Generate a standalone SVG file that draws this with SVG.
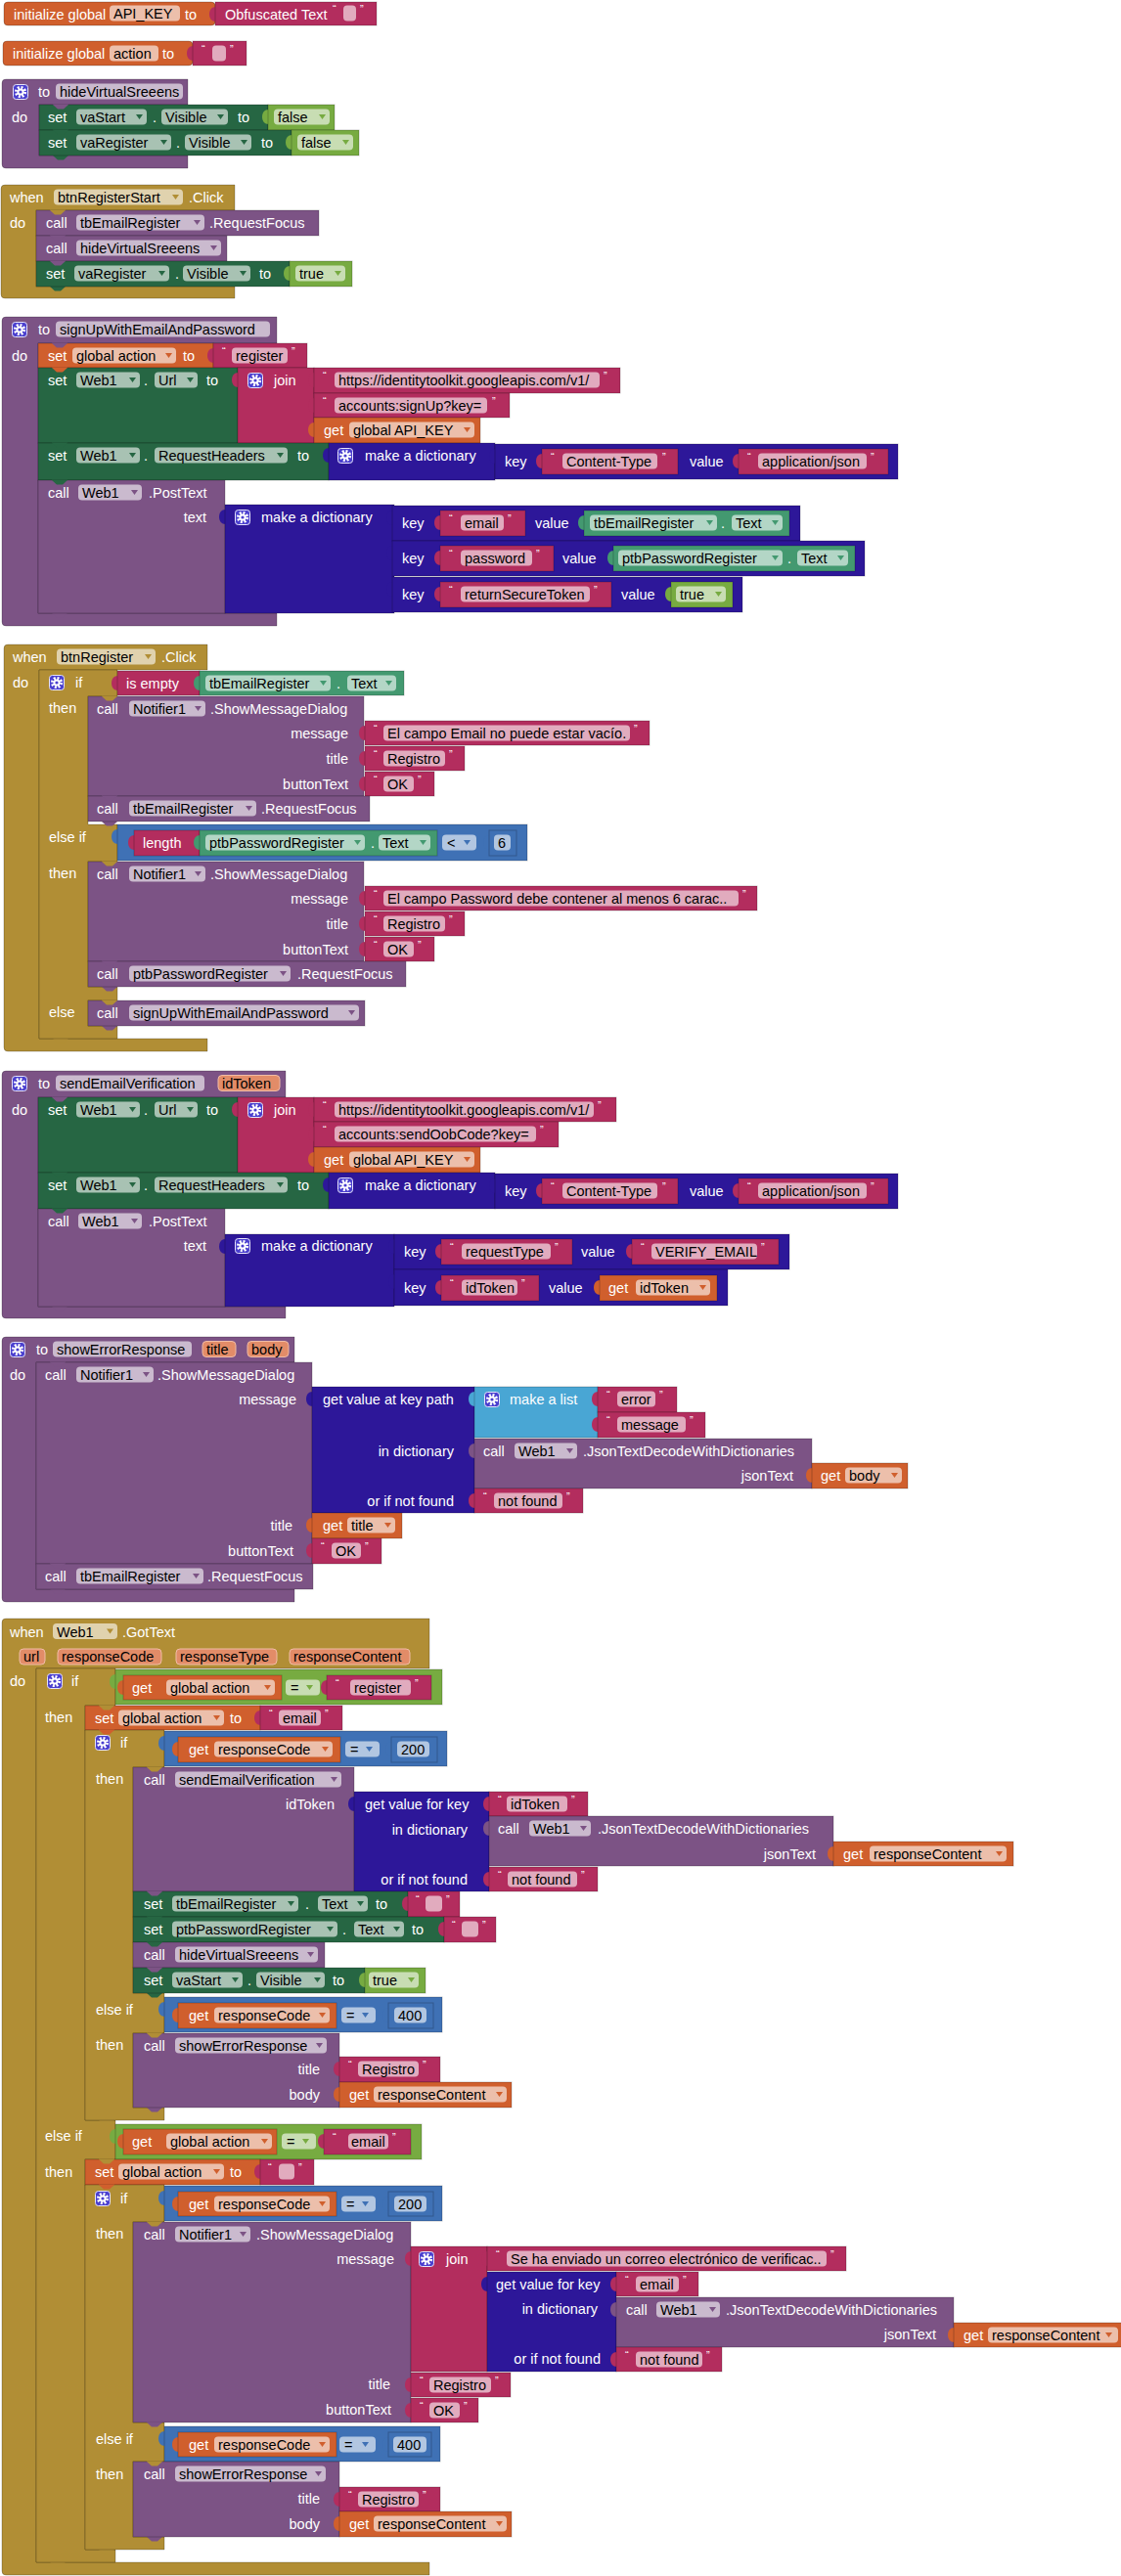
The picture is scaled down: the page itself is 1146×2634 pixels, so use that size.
<svg xmlns="http://www.w3.org/2000/svg" width="1146" height="2634" viewBox="0 0 1146 2634">
<style>
text{font-family:"Liberation Sans",Arial,sans-serif;font-size:14.5px;fill:#fff}
text.k{fill:#000}
text.q{font-size:11px}
text.r{text-anchor:end}
.b{stroke:#000;stroke-opacity:.22;stroke-width:1}
.p{fill:#fff;fill-opacity:.6}
.pa{fill:#E28C68;stroke:#F0BCA6}
.V{fill:#D05F2D}.T{fill:#B32D5E}.P{fill:#7C5385}.C{fill:#B18E35}.S{fill:#266643}.G{fill:#439970}.L{fill:#77AB41}.M{fill:#3F71B5}.D{fill:#2D1799}.LI{fill:#49A6D4}
</style>
<defs>
<path id="tb" d="M0.5,5C-3.5,5 -6,8 -6,12.5S-3.5,20 0.5,20Z"/>
<path id="ar" d="M0,0H7L3.5,5Z"/>
<path id="nt" d="M0,-0.5V0L5,4.5H11L16,0V-0.5Z"/>
<g id="gr"><rect x=".5" y=".5" width="15" height="15" rx="3" fill="#4A3FCF" stroke="#E6E4FA"/><circle cx="8" cy="8" r="4.6" fill="none" stroke="#fff" stroke-width="3" stroke-dasharray="1.9 1.7"/><circle cx="8" cy="8" r="3.6" fill="#fff"/><circle cx="8" cy="8" r="1.6" fill="#4A3FCF"/></g>
</defs>
<rect width="1146" height="2634" fill="#fff"/>

<g id="init-api-key">
<rect class="V b" x="4" y="2" width="216" height="24" rx="4"/>
<text x="14" y="19.5">initialize global</text>
<rect class="p" x="112" y="5.5" width="72" height="16" rx="4"/><text class="k" x="116" y="19">API_KEY</text>
<text x="189" y="19.5">to</text>
<use href="#tb" class="T" x="220" y="2"/><rect class="T b" x="220" y="2" width="165" height="24"/>
<text x="230" y="19.5">Obfuscated Text</text>
<text class="q" x="340" y="13">“</text><rect class="p" x="351" y="5.5" width="13" height="16" rx="4"/><text class="q" x="368" y="13">”</text>
</g>

<g id="init-action">
<rect class="V b" x="3" y="42" width="194" height="25" rx="4"/>
<text x="13" y="60">initialize global</text>
<rect class="p" x="112" y="46.5" width="50" height="16" rx="4"/><text class="k" x="116" y="60">action</text>
<text x="166" y="60">to</text>
<use href="#tb" class="T" x="197" y="42"/><rect class="T b" x="197" y="42" width="55" height="25"/>
<text class="q" x="206" y="54">“</text><rect class="p" x="217" y="46.5" width="14" height="16" rx="4"/><text class="q" x="235" y="54">”</text>
</g>

<g id="proc-hideVirtualSreeens">
<path class="P b" d="M2,85Q2,81 6,81H192V107H40V159H192V172H6Q2,172 2,168Z"/>
<use href="#gr" x="13" y="86"/>
<text x="39" y="99">to</text>
<rect class="p" x="57" y="85.5" width="130" height="16" rx="4"/><text class="k" x="61" y="99">hideVirtualSreeens</text>
<text x="12" y="125">do</text>
<rect class="S b" x="40" y="107" width="234" height="26"/>
<text x="49" y="125">set</text>
<rect class="p" x="78" y="111.5" width="72" height="16" rx="4"/><text class="k" x="82" y="125">vaStart</text><use href="#ar" class="S" x="139" y="117"/>
<text x="156" y="125">.</text>
<rect class="p" x="165" y="111.5" width="68" height="16" rx="4"/><text class="k" x="169" y="125">Visible</text><use href="#ar" class="S" x="222" y="117"/>
<text x="243" y="125">to</text>
<use href="#tb" class="L" x="274" y="107"/><rect class="L b" x="274" y="107" width="68" height="26"/>
<rect class="p" x="280" y="111.5" width="57" height="16" rx="4"/><text class="k" x="284" y="125">false</text><use href="#ar" class="L" x="326" y="117"/>
<use href="#nt" class="S" x="54" y="159"/>
<rect class="S b" x="40" y="133" width="258" height="26"/>
<text x="49" y="151">set</text>
<rect class="p" x="78" y="137.5" width="97" height="16" rx="4"/><text class="k" x="82" y="151">vaRegister</text><use href="#ar" class="S" x="164" y="143"/>
<text x="180" y="151">.</text>
<rect class="p" x="189" y="137.5" width="68" height="16" rx="4"/><text class="k" x="193" y="151">Visible</text><use href="#ar" class="S" x="246" y="143"/>
<text x="267" y="151">to</text>
<use href="#tb" class="L" x="298" y="133"/><rect class="L b" x="298" y="133" width="69" height="26"/>
<rect class="p" x="304" y="137.5" width="57" height="16" rx="4"/><text class="k" x="308" y="151">false</text><use href="#ar" class="L" x="350" y="143"/>
<use href="#nt" class="P" x="54" y="107"/><use href="#nt" class="S" x="54" y="133"/>
</g>

<g id="when-btnRegisterStart-click">
<path class="C b" d="M1,193Q1,189 5,189H240V215H37V293H240V305H5Q1,305 1,301Z"/>
<text x="10" y="207">when</text>
<rect class="p" x="55" y="193.5" width="132" height="16" rx="4"/><text class="k" x="59" y="207">btnRegisterStart</text><use href="#ar" class="C" x="176" y="199"/>
<text x="193" y="207">.Click</text>
<text x="10" y="233">do</text>
<rect class="P b" x="37" y="215" width="289" height="26"/>
<text x="47" y="233">call</text>
<rect class="p" x="78" y="219.5" width="131" height="16" rx="4"/><text class="k" x="82" y="233">tbEmailRegister</text><use href="#ar" class="P" x="198" y="225"/>
<text x="214" y="233">.RequestFocus</text>
<rect class="P b" x="37" y="241" width="195" height="26"/>
<text x="47" y="259">call</text>
<rect class="p" x="78" y="245.5" width="148" height="16" rx="4"/><text class="k" x="82" y="259">hideVirtualSreeens</text><use href="#ar" class="P" x="215" y="251"/>
<use href="#nt" class="S" x="51" y="293"/>
<rect class="S b" x="37" y="267" width="259" height="26"/>
<text x="47" y="285">set</text>
<rect class="p" x="76" y="271.5" width="97" height="16" rx="4"/><text class="k" x="80" y="285">vaRegister</text><use href="#ar" class="S" x="162" y="277"/>
<text x="179" y="285">.</text>
<rect class="p" x="187" y="271.5" width="69" height="16" rx="4"/><text class="k" x="191" y="285">Visible</text><use href="#ar" class="S" x="245" y="277"/>
<text x="265" y="285">to</text>
<use href="#tb" class="L" x="296" y="267"/><rect class="L b" x="296" y="267" width="64" height="26"/>
<rect class="p" x="302" y="271.5" width="51" height="16" rx="4"/><text class="k" x="306" y="285">true</text><use href="#ar" class="L" x="342" y="277"/>
<use href="#nt" class="C" x="51" y="215"/><use href="#nt" class="P" x="51" y="241"/><use href="#nt" class="P" x="51" y="267"/>
</g>

<g id="proc-signUpWithEmailAndPassword">
<path class="P b" d="M2,328Q2,324 6,324H283V351H39V627H283V640H6Q2,640 2,636Z"/>
<use href="#gr" x="12" y="329"/>
<text x="39" y="342">to</text>
<rect class="p" x="57" y="328.5" width="219" height="16" rx="4"/><text class="k" x="61" y="342">signUpWithEmailAndPassword</text>
<text x="12" y="369">do</text>
<rect class="V b" x="39" y="351" width="179" height="25"/>
<text x="49" y="369">set</text>
<rect class="p" x="74" y="355.5" width="106" height="16" rx="4"/><text class="k" x="78" y="369">global action</text><use href="#ar" class="V" x="169" y="361"/>
<text x="187" y="369">to</text>
<use href="#tb" class="T" x="218" y="351"/><rect class="T b" x="218" y="351" width="96" height="25"/>
<text class="q" x="227" y="363">“</text><rect class="p" x="237" y="355.5" width="57" height="16" rx="4"/><text class="k" x="241" y="369">register</text><text class="q" x="298" y="363">”</text>
<rect class="S b" x="39" y="376" width="204" height="77"/>
<text x="49" y="394">set</text>
<rect class="p" x="78" y="380.5" width="65" height="16" rx="4"/><text class="k" x="82" y="394">Web1</text><use href="#ar" class="S" x="132" y="386"/>
<text x="147" y="394">.</text>
<rect class="p" x="158" y="380.5" width="44" height="16" rx="4"/><text class="k" x="162" y="394">Url</text><use href="#ar" class="S" x="191" y="386"/>
<text x="211" y="394">to</text>
<use href="#tb" class="T" x="243" y="376"/><rect class="T b" x="243" y="376" width="78" height="77"/>
<use href="#gr" x="253" y="381"/><text x="280" y="394">join</text>
<use href="#tb" class="T" x="321" y="376"/><rect class="T b" x="321" y="376" width="313" height="26"/>
<text class="q" x="330" y="388">“</text><rect class="p" x="342" y="380.5" width="271" height="16" rx="4"/><text class="k" x="346" y="394">https://identitytoolkit.googleapis.com/v1/</text><text class="q" x="617" y="388">”</text>
<use href="#tb" class="T" x="321" y="402"/><rect class="T b" x="321" y="402" width="200" height="25"/>
<text class="q" x="330" y="414">“</text><rect class="p" x="342" y="406.5" width="156" height="16" rx="4"/><text class="k" x="346" y="420">accounts:signUp?key=</text><text class="q" x="503" y="414">”</text>
<use href="#tb" class="V" x="321" y="427"/><rect class="V b" x="321" y="427" width="170" height="26"/>
<text x="331" y="445">get</text>
<rect class="p" x="357" y="431.5" width="128" height="16" rx="4"/><text class="k" x="361" y="445">global API_KEY</text><use href="#ar" class="V" x="474" y="437"/>
<rect class="S b" x="39" y="453" width="297" height="38"/>
<text x="49" y="471">set</text>
<rect class="p" x="78" y="457.5" width="65" height="16" rx="4"/><text class="k" x="82" y="471">Web1</text><use href="#ar" class="S" x="132" y="463"/>
<text x="147" y="471">.</text>
<rect class="p" x="158" y="457.5" width="136" height="16" rx="4"/><text class="k" x="162" y="471">RequestHeaders</text><use href="#ar" class="S" x="283" y="463"/>
<text x="304" y="471">to</text>
<use href="#tb" class="D" x="336" y="453"/><rect class="D b" x="336" y="453" width="170" height="38"/>
<use href="#gr" x="345" y="458"/><text x="373" y="471">make a dictionary</text>
<use href="#tb" class="D" x="506" y="454"/><rect class="D b" x="506" y="454" width="412" height="36"/>
<text x="516" y="477">key</text>
<use href="#tb" class="T" x="554" y="459"/><rect class="T b" x="554" y="459" width="139" height="26"/>
<text class="q" x="563" y="471">“</text><rect class="p" x="575" y="463.5" width="97" height="16" rx="4"/><text class="k" x="579" y="477">Content-Type</text><text class="q" x="677" y="471">”</text>
<text x="705" y="477">value</text>
<use href="#tb" class="T" x="755" y="459"/><rect class="T b" x="755" y="459" width="153" height="26"/>
<text class="q" x="764" y="471">“</text><rect class="p" x="775" y="463.5" width="111" height="16" rx="4"/><text class="k" x="779" y="477">application/json</text><text class="q" x="890" y="471">”</text>
<use href="#nt" class="P" x="53" y="627"/>
<rect class="P b" x="39" y="491" width="191" height="136"/>
<text x="49" y="509">call</text>
<rect class="p" x="80" y="495.5" width="65" height="16" rx="4"/><text class="k" x="84" y="509">Web1</text><use href="#ar" class="P" x="134" y="501"/>
<text x="152" y="509">.PostText</text>
<text class="r" x="211" y="534">text</text>
<use href="#tb" class="D" x="230" y="516"/><rect class="D b" x="230" y="516" width="173" height="111"/>
<use href="#gr" x="240" y="521"/><text x="267" y="534">make a dictionary</text>
<use href="#tb" class="D" x="401" y="517"/><rect class="D b" x="401" y="517" width="417" height="36"/>
<text x="411" y="540">key</text>
<use href="#tb" class="T" x="450" y="522"/><rect class="T b" x="450" y="522" width="87" height="26"/>
<text class="q" x="459" y="534">“</text><rect class="p" x="471" y="526.5" width="44" height="16" rx="4"/><text class="k" x="475" y="540">email</text><text class="q" x="519" y="534">”</text>
<text x="547" y="540">value</text>
<use href="#tb" class="G" x="597" y="522"/><rect class="G b" x="597" y="522" width="210" height="26"/>
<rect class="p" x="603" y="526.5" width="130" height="16" rx="4"/><text class="k" x="607" y="540">tbEmailRegister</text><use href="#ar" class="G" x="722" y="532"/>
<text x="737" y="540">.</text>
<rect class="p" x="748" y="526.5" width="52" height="16" rx="4"/><text class="k" x="752" y="540">Text</text><use href="#ar" class="G" x="789" y="532"/>
<use href="#tb" class="D" x="401" y="553"/><rect class="D b" x="401" y="553" width="483" height="36"/>
<text x="411" y="576">key</text>
<use href="#tb" class="T" x="450" y="558"/><rect class="T b" x="450" y="558" width="116" height="26"/>
<text class="q" x="459" y="570">“</text><rect class="p" x="471" y="562.5" width="73" height="16" rx="4"/><text class="k" x="475" y="576">password</text><text class="q" x="548" y="570">”</text>
<text x="575" y="576">value</text>
<use href="#tb" class="G" x="627" y="558"/><rect class="G b" x="627" y="558" width="247" height="26"/>
<rect class="p" x="632" y="562.5" width="168" height="16" rx="4"/><text class="k" x="636" y="576">ptbPasswordRegister</text><use href="#ar" class="G" x="789" y="568"/>
<text x="805" y="576">.</text>
<rect class="p" x="815" y="562.5" width="52" height="16" rx="4"/><text class="k" x="819" y="576">Text</text><use href="#ar" class="G" x="856" y="568"/>
<use href="#tb" class="D" x="401" y="590"/><rect class="D b" x="401" y="590" width="358" height="36"/>
<text x="411" y="613">key</text>
<use href="#tb" class="T" x="450" y="595"/><rect class="T b" x="450" y="595" width="175" height="26"/>
<text class="q" x="459" y="607">“</text><rect class="p" x="471" y="599.5" width="132" height="16" rx="4"/><text class="k" x="475" y="613">returnSecureToken</text><text class="q" x="607" y="607">”</text>
<text x="635" y="613">value</text>
<use href="#tb" class="L" x="686" y="595"/><rect class="L b" x="686" y="595" width="63" height="26"/>
<rect class="p" x="691" y="599.5" width="51" height="16" rx="4"/><text class="k" x="695" y="613">true</text><use href="#ar" class="L" x="731" y="605"/>
<use href="#nt" class="P" x="53" y="351"/><use href="#nt" class="V" x="53" y="376"/><use href="#nt" class="S" x="53" y="453"/><use href="#nt" class="S" x="53" y="491"/>
</g>

<g id="when-btnRegister-click">
<path class="C b" d="M4,663Q4,659 8,659H212V685H40V1062H212V1075H8Q4,1075 4,1071Z"/>
<text x="13" y="677">when</text>
<rect class="p" x="58" y="663.5" width="101" height="16" rx="4"/><text class="k" x="62" y="677">btnRegister</text><use href="#ar" class="C" x="148" y="669"/>
<text x="165" y="677">.Click</text>
<text x="13" y="703">do</text>
<use href="#nt" class="C" x="54" y="1062"/>
<path class="C b" d="M40,685H120V712H90V843H120V881H90V1009H120V1023H90V1049H120V1062H40Z"/>
<use href="#gr" x="50" y="690"/><text x="77" y="703">if</text>
<text x="50" y="729">then</text>
<text x="50" y="861">else if</text>
<text x="50" y="898">then</text>
<text x="50" y="1040">else</text>
<use href="#tb" class="T" x="120" y="686"/><rect class="T b" x="120" y="686" width="84" height="25"/>
<text x="129" y="704">is empty</text>
<use href="#tb" class="G" x="204" y="686"/><rect class="G b" x="204" y="686" width="209" height="25"/>
<rect class="p" x="210" y="690.5" width="128" height="16" rx="4"/><text class="k" x="214" y="704">tbEmailRegister</text><use href="#ar" class="G" x="327" y="696"/>
<text x="344" y="704">.</text>
<rect class="p" x="355" y="690.5" width="50" height="16" rx="4"/><text class="k" x="359" y="704">Text</text><use href="#ar" class="G" x="394" y="696"/>
<rect class="P b" x="90" y="712" width="282" height="102"/>
<text x="99" y="730">call</text>
<rect class="p" x="132" y="716.5" width="78" height="16" rx="4"/><text class="k" x="136" y="730">Notifier1</text><use href="#ar" class="P" x="199" y="722"/>
<text x="215" y="730">.ShowMessageDialog</text>
<text class="r" x="356" y="755">message</text>
<text class="r" x="356" y="781">title</text>
<text class="r" x="356" y="807">buttonText</text>
<use href="#tb" class="T" x="373" y="737"/><rect class="T b" x="373" y="737" width="291" height="25"/>
<text class="q" x="382" y="749">“</text><rect class="p" x="392" y="741.5" width="252" height="16" rx="4"/><text class="k" x="396" y="755">El campo Email no puede estar vacío.</text><text class="q" x="648" y="749">”</text>
<use href="#tb" class="T" x="373" y="763"/><rect class="T b" x="373" y="763" width="102" height="25"/>
<text class="q" x="382" y="775">“</text><rect class="p" x="392" y="767.5" width="63" height="16" rx="4"/><text class="k" x="396" y="781">Registro</text><text class="q" x="459" y="775">”</text>
<use href="#tb" class="T" x="373" y="789"/><rect class="T b" x="373" y="789" width="71" height="25"/>
<text class="q" x="382" y="801">“</text><rect class="p" x="392" y="793.5" width="31" height="16" rx="4"/><text class="k" x="396" y="807">OK</text><text class="q" x="427" y="801">”</text>
<use href="#nt" class="P" x="104" y="840"/>
<rect class="P b" x="90" y="814" width="288" height="26"/>
<text x="99" y="832">call</text>
<rect class="p" x="132" y="818.5" width="130" height="16" rx="4"/><text class="k" x="136" y="832">tbEmailRegister</text><use href="#ar" class="P" x="251" y="824"/>
<text x="267" y="832">.RequestFocus</text>
<use href="#tb" class="M" x="120" y="843"/><rect class="M b" x="120" y="843" width="419" height="37"/>
<use href="#tb" class="T" x="137" y="849"/><rect class="T b" x="137" y="849" width="67" height="26"/>
<text x="146" y="867">length</text>
<use href="#tb" class="G" x="204" y="849"/><rect class="G b" x="204" y="849" width="243" height="26"/>
<rect class="p" x="210" y="853.5" width="163" height="16" rx="4"/><text class="k" x="214" y="867">ptbPasswordRegister</text><use href="#ar" class="G" x="362" y="859"/>
<text x="379" y="867">.</text>
<rect class="p" x="387" y="853.5" width="53" height="16" rx="4"/><text class="k" x="391" y="867">Text</text><use href="#ar" class="G" x="429" y="859"/>
<rect class="p" x="452" y="853.5" width="35" height="16" rx="4"/><text class="k" x="457" y="867">&lt;</text><use href="#ar" class="M" x="474" y="859"/>
<use href="#tb" class="M" x="500" y="849"/><rect class="M b" x="500" y="849" width="28" height="26"/>
<rect class="p" x="505" y="853.5" width="17" height="16" rx="4"/><text class="k" x="509" y="867">6</text>
<rect class="P b" x="90" y="881" width="282" height="102"/>
<text x="99" y="899">call</text>
<rect class="p" x="132" y="885.5" width="78" height="16" rx="4"/><text class="k" x="136" y="899">Notifier1</text><use href="#ar" class="P" x="199" y="891"/>
<text x="215" y="899">.ShowMessageDialog</text>
<text class="r" x="356" y="924">message</text>
<text class="r" x="356" y="950">title</text>
<text class="r" x="356" y="976">buttonText</text>
<use href="#tb" class="T" x="373" y="906"/><rect class="T b" x="373" y="906" width="401" height="25"/>
<text class="q" x="382" y="918">“</text><rect class="p" x="392" y="910.5" width="363" height="16" rx="4"/><text class="k" x="396" y="924">El campo Password debe contener al menos 6 carac..</text><text class="q" x="759" y="918">”</text>
<use href="#tb" class="T" x="373" y="932"/><rect class="T b" x="373" y="932" width="102" height="25"/>
<text class="q" x="382" y="944">“</text><rect class="p" x="392" y="936.5" width="63" height="16" rx="4"/><text class="k" x="396" y="950">Registro</text><text class="q" x="459" y="944">”</text>
<use href="#tb" class="T" x="373" y="958"/><rect class="T b" x="373" y="958" width="71" height="25"/>
<text class="q" x="382" y="970">“</text><rect class="p" x="392" y="962.5" width="31" height="16" rx="4"/><text class="k" x="396" y="976">OK</text><text class="q" x="427" y="970">”</text>
<use href="#nt" class="P" x="104" y="1009"/>
<rect class="P b" x="90" y="983" width="325" height="26"/>
<text x="99" y="1001">call</text>
<rect class="p" x="132" y="987.5" width="165" height="16" rx="4"/><text class="k" x="136" y="1001">ptbPasswordRegister</text><use href="#ar" class="P" x="286" y="993"/>
<text x="304" y="1001">.RequestFocus</text>
<use href="#nt" class="P" x="104" y="1049"/>
<rect class="P b" x="90" y="1023" width="283" height="26"/>
<text x="99" y="1041">call</text>
<rect class="p" x="132" y="1027.5" width="235" height="16" rx="4"/><text class="k" x="136" y="1041">signUpWithEmailAndPassword</text><use href="#ar" class="P" x="356" y="1033"/>
<use href="#nt" class="C" x="104" y="712"/><use href="#nt" class="P" x="104" y="814"/><use href="#nt" class="C" x="104" y="881"/><use href="#nt" class="P" x="104" y="983"/><use href="#nt" class="C" x="104" y="1023"/>
</g>

<g id="proc-sendEmailVerification">
<path class="P b" d="M2,1099Q2,1095 6,1095H292V1122H39V1336H292V1348H6Q2,1348 2,1344Z"/>
<use href="#gr" x="12" y="1100"/>
<text x="39" y="1113">to</text>
<rect class="p" x="57" y="1099.5" width="152" height="16" rx="4"/><text class="k" x="61" y="1113">sendEmailVerification</text>
<rect class="pa" x="223" y="1099.5" width="63" height="16" rx="4"/><text class="k" x="227" y="1113">idToken</text>
<text x="12" y="1140">do</text>
<rect class="S b" x="39" y="1122" width="204" height="77"/>
<text x="49" y="1140">set</text>
<rect class="p" x="78" y="1126.5" width="65" height="16" rx="4"/><text class="k" x="82" y="1140">Web1</text><use href="#ar" class="S" x="132" y="1132"/>
<text x="147" y="1140">.</text>
<rect class="p" x="158" y="1126.5" width="44" height="16" rx="4"/><text class="k" x="162" y="1140">Url</text><use href="#ar" class="S" x="191" y="1132"/>
<text x="211" y="1140">to</text>
<use href="#tb" class="T" x="243" y="1122"/><rect class="T b" x="243" y="1122" width="78" height="77"/>
<use href="#gr" x="253" y="1127"/><text x="280" y="1140">join</text>
<use href="#tb" class="T" x="321" y="1122"/><rect class="T b" x="321" y="1122" width="309" height="25"/>
<text class="q" x="330" y="1134">“</text><rect class="p" x="342" y="1126.5" width="265" height="16" rx="4"/><text class="k" x="346" y="1140">https://identitytoolkit.googleapis.com/v1/</text><text class="q" x="611" y="1134">”</text>
<use href="#tb" class="T" x="321" y="1147"/><rect class="T b" x="321" y="1147" width="250" height="26"/>
<text class="q" x="330" y="1159">“</text><rect class="p" x="342" y="1151.5" width="206" height="16" rx="4"/><text class="k" x="346" y="1165">accounts:sendOobCode?key=</text><text class="q" x="552" y="1159">”</text>
<use href="#tb" class="V" x="321" y="1173"/><rect class="V b" x="321" y="1173" width="170" height="26"/>
<text x="331" y="1191">get</text>
<rect class="p" x="357" y="1177.5" width="128" height="16" rx="4"/><text class="k" x="361" y="1191">global API_KEY</text><use href="#ar" class="V" x="474" y="1183"/>
<rect class="S b" x="39" y="1199" width="297" height="37"/>
<text x="49" y="1217">set</text>
<rect class="p" x="78" y="1203.5" width="65" height="16" rx="4"/><text class="k" x="82" y="1217">Web1</text><use href="#ar" class="S" x="132" y="1209"/>
<text x="147" y="1217">.</text>
<rect class="p" x="158" y="1203.5" width="136" height="16" rx="4"/><text class="k" x="162" y="1217">RequestHeaders</text><use href="#ar" class="S" x="283" y="1209"/>
<text x="304" y="1217">to</text>
<use href="#tb" class="D" x="336" y="1199"/><rect class="D b" x="336" y="1199" width="170" height="37"/>
<use href="#gr" x="345" y="1204"/><text x="373" y="1217">make a dictionary</text>
<use href="#tb" class="D" x="506" y="1200"/><rect class="D b" x="506" y="1200" width="412" height="36"/>
<text x="516" y="1223">key</text>
<use href="#tb" class="T" x="554" y="1205"/><rect class="T b" x="554" y="1205" width="139" height="26"/>
<text class="q" x="563" y="1217">“</text><rect class="p" x="575" y="1209.5" width="97" height="16" rx="4"/><text class="k" x="579" y="1223">Content-Type</text><text class="q" x="677" y="1217">”</text>
<text x="705" y="1223">value</text>
<use href="#tb" class="T" x="755" y="1205"/><rect class="T b" x="755" y="1205" width="153" height="26"/>
<text class="q" x="764" y="1217">“</text><rect class="p" x="775" y="1209.5" width="111" height="16" rx="4"/><text class="k" x="779" y="1223">application/json</text><text class="q" x="890" y="1217">”</text>
<use href="#nt" class="P" x="53" y="1336"/>
<rect class="P b" x="39" y="1236" width="191" height="100"/>
<text x="49" y="1254">call</text>
<rect class="p" x="80" y="1240.5" width="65" height="16" rx="4"/><text class="k" x="84" y="1254">Web1</text><use href="#ar" class="P" x="134" y="1246"/>
<text x="152" y="1254">.PostText</text>
<text class="r" x="211" y="1279">text</text>
<use href="#tb" class="D" x="230" y="1262"/><rect class="D b" x="230" y="1262" width="173" height="74"/>
<use href="#gr" x="240" y="1266"/><text x="267" y="1279">make a dictionary</text>
<use href="#tb" class="D" x="403" y="1262"/><rect class="D b" x="403" y="1262" width="404" height="36"/>
<text x="413" y="1285">key</text>
<use href="#tb" class="T" x="451" y="1267"/><rect class="T b" x="451" y="1267" width="134" height="26"/>
<text class="q" x="460" y="1279">“</text><rect class="p" x="472" y="1271.5" width="91" height="16" rx="4"/><text class="k" x="476" y="1285">requestType</text><text class="q" x="567" y="1279">”</text>
<text x="594" y="1285">value</text>
<use href="#tb" class="T" x="646" y="1267"/><rect class="T b" x="646" y="1267" width="150" height="26"/>
<text class="q" x="655" y="1279">“</text><rect class="p" x="666" y="1271.5" width="108" height="16" rx="4"/><text class="k" x="670" y="1285">VERIFY_EMAIL</text><text class="q" x="778" y="1279">”</text>
<use href="#tb" class="D" x="403" y="1298"/><rect class="D b" x="403" y="1298" width="341" height="37"/>
<text x="413" y="1322">key</text>
<use href="#tb" class="T" x="451" y="1304"/><rect class="T b" x="451" y="1304" width="100" height="26"/>
<text class="q" x="460" y="1316">“</text><rect class="p" x="472" y="1308.5" width="57" height="16" rx="4"/><text class="k" x="476" y="1322">idToken</text><text class="q" x="533" y="1316">”</text>
<text x="561" y="1322">value</text>
<use href="#tb" class="V" x="613" y="1304"/><rect class="V b" x="613" y="1304" width="120" height="26"/>
<text x="622" y="1322">get</text>
<rect class="p" x="650" y="1308.5" width="76" height="16" rx="4"/><text class="k" x="654" y="1322">idToken</text><use href="#ar" class="V" x="715" y="1314"/>
<use href="#nt" class="P" x="53" y="1122"/><use href="#nt" class="S" x="53" y="1199"/><use href="#nt" class="S" x="53" y="1236"/>
</g>

<g id="proc-showErrorResponse">
<path class="P b" d="M2,1371Q2,1367 6,1367H301V1393H37V1625H301V1638H6Q2,1638 2,1634Z"/>
<use href="#gr" x="10" y="1372"/>
<text x="37" y="1385">to</text>
<rect class="p" x="54" y="1371.5" width="142" height="16" rx="4"/><text class="k" x="58" y="1385">showErrorResponse</text>
<rect class="pa" x="207" y="1371.5" width="34" height="16" rx="4"/><text class="k" x="211" y="1385">title</text>
<rect class="pa" x="253" y="1371.5" width="42" height="16" rx="4"/><text class="k" x="257" y="1385">body</text>
<text x="10" y="1411">do</text>
<rect class="P b" x="37" y="1393" width="282" height="206"/>
<text x="46" y="1411">call</text>
<rect class="p" x="78" y="1397.5" width="79" height="16" rx="4"/><text class="k" x="82" y="1411">Notifier1</text><use href="#ar" class="P" x="146" y="1403"/>
<text x="161" y="1411">.ShowMessageDialog</text>
<text class="r" x="303" y="1436">message</text>
<use href="#tb" class="D" x="319" y="1418"/><rect class="D b" x="319" y="1418" width="166" height="129"/>
<text x="330" y="1436">get value at key path</text>
<use href="#tb" class="LI" x="485" y="1418"/><rect class="LI b" x="485" y="1418" width="126" height="52"/>
<use href="#gr" x="495" y="1423"/><text x="521" y="1436">make a list</text>
<use href="#tb" class="T" x="611" y="1418"/><rect class="T b" x="611" y="1418" width="81" height="26"/>
<text class="q" x="620" y="1430">“</text><rect class="p" x="631" y="1422.5" width="39" height="16" rx="4"/><text class="k" x="635" y="1436">error</text><text class="q" x="674" y="1430">”</text>
<use href="#tb" class="T" x="611" y="1444"/><rect class="T b" x="611" y="1444" width="110" height="26"/>
<text class="q" x="620" y="1456">“</text><rect class="p" x="631" y="1448.5" width="70" height="16" rx="4"/><text class="k" x="635" y="1462">message</text><text class="q" x="705" y="1456">”</text>
<text class="r" x="464" y="1489">in dictionary</text>
<use href="#tb" class="P" x="485" y="1471"/><rect class="P b" x="485" y="1471" width="345" height="51"/>
<text x="494" y="1489">call</text>
<rect class="p" x="526" y="1475.5" width="64" height="16" rx="4"/><text class="k" x="530" y="1489">Web1</text><use href="#ar" class="P" x="579" y="1481"/>
<text x="596" y="1489">.JsonTextDecodeWithDictionaries</text>
<text class="r" x="811" y="1514">jsonText</text>
<use href="#tb" class="V" x="830" y="1496"/><rect class="V b" x="830" y="1496" width="98" height="26"/>
<text x="839" y="1514">get</text>
<rect class="p" x="864" y="1500.5" width="58" height="16" rx="4"/><text class="k" x="868" y="1514">body</text><use href="#ar" class="V" x="911" y="1506"/>
<text class="r" x="464" y="1540">or if not found</text>
<use href="#tb" class="T" x="485" y="1522"/><rect class="T b" x="485" y="1522" width="111" height="25"/>
<text class="q" x="494" y="1534">“</text><rect class="p" x="505" y="1526.5" width="70" height="16" rx="4"/><text class="k" x="509" y="1540">not found</text><text class="q" x="579" y="1534">”</text>
<text class="r" x="299" y="1565">title</text>
<use href="#tb" class="V" x="319" y="1547"/><rect class="V b" x="319" y="1547" width="92" height="26"/>
<text x="330" y="1565">get</text>
<rect class="p" x="355" y="1551.5" width="49" height="16" rx="4"/><text class="k" x="359" y="1565">title</text><use href="#ar" class="V" x="393" y="1557"/>
<text class="r" x="300" y="1591">buttonText</text>
<use href="#tb" class="T" x="319" y="1573"/><rect class="T b" x="319" y="1573" width="71" height="26"/>
<text class="q" x="328" y="1585">“</text><rect class="p" x="339" y="1577.5" width="30" height="16" rx="4"/><text class="k" x="343" y="1591">OK</text><text class="q" x="373" y="1585">”</text>
<use href="#nt" class="P" x="51" y="1625"/>
<rect class="P b" x="37" y="1599" width="283" height="26"/>
<text x="46" y="1617">call</text>
<rect class="p" x="78" y="1603.5" width="130" height="16" rx="4"/><text class="k" x="82" y="1617">tbEmailRegister</text><use href="#ar" class="P" x="197" y="1609"/>
<text x="212" y="1617">.RequestFocus</text>
<use href="#nt" class="P" x="51" y="1393"/><use href="#nt" class="P" x="51" y="1599"/>
</g>

<g id="when-web1-gottext">
<path class="C b" d="M2,1659Q2,1655 6,1655H439V1706H37V2620H439V2633H6Q2,2633 2,2629Z"/>
<text x="10" y="1674">when</text>
<rect class="p" x="54" y="1660" width="66" height="16" rx="4"/><text class="k" x="58" y="1674">Web1</text><use href="#ar" class="C" x="109" y="1665.5"/>
<text x="125" y="1674">.GotText</text>
<rect class="pa" x="20" y="1686" width="26" height="16" rx="4"/><text class="k" x="24" y="1699">url</text>
<rect class="pa" x="59" y="1686" width="106" height="16" rx="4"/><text class="k" x="63" y="1699">responseCode</text>
<rect class="pa" x="180" y="1686" width="103" height="16" rx="4"/><text class="k" x="184" y="1699">responseType</text>
<rect class="pa" x="296" y="1686" width="123" height="16" rx="4"/><text class="k" x="300" y="1699">responseContent</text>
<text x="10" y="1724">do</text>
<use href="#nt" class="C" x="51" y="2620"/>
<path class="C b" d="M37,1706H118V1744H87V2168H118V2208H87V2607H118V2620H37Z"/>
<use href="#gr" x="48" y="1711"/><text x="73" y="1724">if</text>
<text x="46" y="1761">then</text>
<text x="46" y="2189">else if</text>
<text x="46" y="2226">then</text>
<use href="#tb" class="L" x="118" y="1707"/><rect class="L b" x="118" y="1707" width="334" height="36"/>
<use href="#tb" class="V" x="126" y="1713"/><rect class="V b" x="126" y="1713" width="162" height="25"/>
<text x="135" y="1731">get</text>
<rect class="p" x="170" y="1717.5" width="111" height="16" rx="4"/><text class="k" x="174" y="1731">global action</text><use href="#ar" class="V" x="270" y="1723"/>
<rect class="p" x="292" y="1717.5" width="35" height="16" rx="4"/><text class="k" x="297" y="1731">=</text><use href="#ar" class="L" x="313" y="1723"/>
<use href="#tb" class="T" x="334" y="1713"/><rect class="T b" x="334" y="1713" width="107" height="25"/>
<text class="q" x="343" y="1725">“</text><rect class="p" x="358" y="1717.5" width="62" height="16" rx="4"/><text class="k" x="362" y="1731">register</text><text class="q" x="424" y="1725">”</text>
<rect class="V b" x="87" y="1744" width="179" height="25"/>
<text x="97" y="1762">set</text>
<rect class="p" x="121" y="1748.5" width="108" height="16" rx="4"/><text class="k" x="125" y="1762">global action</text><use href="#ar" class="V" x="218" y="1754"/>
<text x="235" y="1762">to</text>
<use href="#tb" class="T" x="266" y="1744"/><rect class="T b" x="266" y="1744" width="84" height="25"/>
<text class="q" x="275" y="1756">“</text><rect class="p" x="285" y="1748.5" width="43" height="16" rx="4"/><text class="k" x="289" y="1762">email</text><text class="q" x="332" y="1756">”</text>
<use href="#nt" class="C" x="101" y="2168"/>
<path class="C b" d="M87,1769H168V1807H136V2038H168V2079H136V2155H168V2168H87Z"/>
<use href="#gr" x="97" y="1774"/><text x="123" y="1787">if</text>
<text x="98" y="1824">then</text>
<text x="98" y="2060">else if</text>
<text x="98" y="2096">then</text>
<use href="#tb" class="M" x="168" y="1770"/><rect class="M b" x="168" y="1770" width="289" height="36"/>
<use href="#tb" class="V" x="182" y="1776"/><rect class="V b" x="182" y="1776" width="166" height="26"/>
<text x="193" y="1794">get</text>
<rect class="p" x="219" y="1780.5" width="121" height="16" rx="4"/><text class="k" x="223" y="1794">responseCode</text><use href="#ar" class="V" x="329" y="1786"/>
<rect class="p" x="353" y="1780.5" width="35" height="16" rx="4"/><text class="k" x="358" y="1794">=</text><use href="#ar" class="M" x="374" y="1786"/>
<use href="#tb" class="M" x="400" y="1776"/><rect class="M b" x="400" y="1776" width="47" height="26"/>
<rect class="p" x="406" y="1780.5" width="33" height="16" rx="4"/><text class="k" x="410" y="1794">200</text>
<rect class="P b" x="136" y="1807" width="226" height="127"/>
<text x="147" y="1825">call</text>
<rect class="p" x="179" y="1811.5" width="170" height="16" rx="4"/><text class="k" x="183" y="1825">sendEmailVerification</text><use href="#ar" class="P" x="338" y="1817"/>
<text class="r" x="342" y="1850">idToken</text>
<use href="#tb" class="D" x="362" y="1832"/><rect class="D b" x="362" y="1832" width="138" height="102"/>
<text x="373" y="1850">get value for key</text>
<use href="#tb" class="T" x="500" y="1832"/><rect class="T b" x="500" y="1832" width="101" height="25"/>
<text class="q" x="509" y="1844">“</text><rect class="p" x="518" y="1836.5" width="62" height="16" rx="4"/><text class="k" x="522" y="1850">idToken</text><text class="q" x="584" y="1844">”</text>
<text class="r" x="478" y="1876">in dictionary</text>
<use href="#tb" class="P" x="500" y="1857"/><rect class="P b" x="500" y="1857" width="352" height="51"/>
<text x="509" y="1875">call</text>
<rect class="p" x="541" y="1861.5" width="63" height="16" rx="4"/><text class="k" x="545" y="1875">Web1</text><use href="#ar" class="P" x="593" y="1867"/>
<text x="611" y="1875">.JsonTextDecodeWithDictionaries</text>
<text class="r" x="834" y="1901">jsonText</text>
<use href="#tb" class="V" x="852" y="1883"/><rect class="V b" x="852" y="1883" width="184" height="25"/>
<text x="862" y="1901">get</text>
<rect class="p" x="889" y="1887.5" width="140" height="16" rx="4"/><text class="k" x="893" y="1901">responseContent</text><use href="#ar" class="V" x="1018" y="1893"/>
<text class="r" x="478" y="1927">or if not found</text>
<use href="#tb" class="T" x="500" y="1909"/><rect class="T b" x="500" y="1909" width="111" height="25"/>
<text class="q" x="509" y="1921">“</text><rect class="p" x="519" y="1913.5" width="71" height="16" rx="4"/><text class="k" x="523" y="1927">not found</text><text class="q" x="594" y="1921">”</text>
<rect class="S b" x="136" y="1934" width="281" height="26"/>
<text x="147" y="1952">set</text>
<rect class="p" x="176" y="1938.5" width="129" height="16" rx="4"/><text class="k" x="180" y="1952">tbEmailRegister</text><use href="#ar" class="S" x="294" y="1944"/>
<text x="312" y="1952">.</text>
<rect class="p" x="325" y="1938.5" width="51" height="16" rx="4"/><text class="k" x="329" y="1952">Text</text><use href="#ar" class="S" x="365" y="1944"/>
<text x="384" y="1952">to</text>
<use href="#tb" class="T" x="417" y="1934"/><rect class="T b" x="417" y="1934" width="53" height="26"/>
<text class="q" x="425" y="1946">“</text><rect class="p" x="435" y="1938.5" width="17" height="16" rx="4"/><text class="q" x="456" y="1946">”</text>
<rect class="S b" x="136" y="1960" width="318" height="26"/>
<text x="147" y="1978">set</text>
<rect class="p" x="176" y="1964.5" width="169" height="16" rx="4"/><text class="k" x="180" y="1978">ptbPasswordRegister</text><use href="#ar" class="S" x="334" y="1970"/>
<text x="350" y="1978">.</text>
<rect class="p" x="362" y="1964.5" width="51" height="16" rx="4"/><text class="k" x="366" y="1978">Text</text><use href="#ar" class="S" x="402" y="1970"/>
<text x="421" y="1978">to</text>
<use href="#tb" class="T" x="454" y="1960"/><rect class="T b" x="454" y="1960" width="53" height="26"/>
<text class="q" x="462" y="1972">“</text><rect class="p" x="472" y="1964.5" width="17" height="16" rx="4"/><text class="q" x="493" y="1972">”</text>
<rect class="P b" x="136" y="1986" width="196" height="26"/>
<text x="147" y="2004">call</text>
<rect class="p" x="179" y="1990.5" width="146" height="16" rx="4"/><text class="k" x="183" y="2004">hideVirtualSreeens</text><use href="#ar" class="P" x="314" y="1996"/>
<use href="#nt" class="S" x="150" y="2038"/>
<rect class="S b" x="136" y="2012" width="237" height="26"/>
<text x="147" y="2030">set</text>
<rect class="p" x="176" y="2016.5" width="72" height="16" rx="4"/><text class="k" x="180" y="2030">vaStart</text><use href="#ar" class="S" x="237" y="2022"/>
<text x="253" y="2030">.</text>
<rect class="p" x="262" y="2016.5" width="70" height="16" rx="4"/><text class="k" x="266" y="2030">Visible</text><use href="#ar" class="S" x="321" y="2022"/>
<text x="340" y="2030">to</text>
<use href="#tb" class="L" x="373" y="2012"/><rect class="L b" x="373" y="2012" width="62" height="26"/>
<rect class="p" x="377" y="2016.5" width="51" height="16" rx="4"/><text class="k" x="381" y="2030">true</text><use href="#ar" class="L" x="417" y="2022"/>
<use href="#tb" class="M" x="168" y="2042"/><rect class="M b" x="168" y="2042" width="284" height="36"/>
<use href="#tb" class="V" x="182" y="2048"/><rect class="V b" x="182" y="2048" width="162" height="26"/>
<text x="193" y="2066">get</text>
<rect class="p" x="219" y="2052.5" width="118" height="16" rx="4"/><text class="k" x="223" y="2066">responseCode</text><use href="#ar" class="V" x="326" y="2058"/>
<rect class="p" x="349" y="2052.5" width="35" height="16" rx="4"/><text class="k" x="354" y="2066">=</text><use href="#ar" class="M" x="370" y="2058"/>
<use href="#tb" class="M" x="397" y="2048"/><rect class="M b" x="397" y="2048" width="46" height="26"/>
<rect class="p" x="403" y="2052.5" width="33" height="16" rx="4"/><text class="k" x="407" y="2066">400</text>
<use href="#nt" class="P" x="150" y="2155"/>
<rect class="P b" x="136" y="2079" width="211" height="76"/>
<text x="147" y="2097">call</text>
<rect class="p" x="179" y="2083.5" width="155" height="16" rx="4"/><text class="k" x="183" y="2097">showErrorResponse</text><use href="#ar" class="P" x="323" y="2089"/>
<text class="r" x="327" y="2121">title</text>
<use href="#tb" class="T" x="347" y="2103"/><rect class="T b" x="347" y="2103" width="103" height="26"/>
<text class="q" x="356" y="2115">“</text><rect class="p" x="366" y="2107.5" width="62" height="16" rx="4"/><text class="k" x="370" y="2121">Registro</text><text class="q" x="432" y="2115">”</text>
<text class="r" x="327" y="2147">body</text>
<use href="#tb" class="V" x="347" y="2129"/><rect class="V b" x="347" y="2129" width="176" height="26"/>
<text x="357" y="2147">get</text>
<rect class="p" x="382" y="2133.5" width="136" height="16" rx="4"/><text class="k" x="386" y="2147">responseContent</text><use href="#ar" class="V" x="507" y="2139"/>
<use href="#tb" class="L" x="118" y="2172"/><rect class="L b" x="118" y="2172" width="313" height="36"/>
<use href="#tb" class="V" x="126" y="2177"/><rect class="V b" x="126" y="2177" width="157" height="26"/>
<text x="135" y="2195">get</text>
<rect class="p" x="170" y="2181.5" width="108" height="16" rx="4"/><text class="k" x="174" y="2195">global action</text><use href="#ar" class="V" x="267" y="2187"/>
<rect class="p" x="288" y="2181.5" width="35" height="16" rx="4"/><text class="k" x="293" y="2195">=</text><use href="#ar" class="L" x="309" y="2187"/>
<use href="#tb" class="T" x="331" y="2177"/><rect class="T b" x="331" y="2177" width="89" height="26"/>
<text class="q" x="340" y="2189">“</text><rect class="p" x="356" y="2181.5" width="41" height="16" rx="4"/><text class="k" x="359" y="2195">email</text><text class="q" x="401" y="2189">”</text>
<rect class="V b" x="87" y="2208" width="179" height="26"/>
<text x="97" y="2226">set</text>
<rect class="p" x="121" y="2212.5" width="108" height="16" rx="4"/><text class="k" x="125" y="2226">global action</text><use href="#ar" class="V" x="218" y="2218"/>
<text x="235" y="2226">to</text>
<use href="#tb" class="T" x="266" y="2208"/><rect class="T b" x="266" y="2208" width="55" height="26"/>
<text class="q" x="274" y="2220">“</text><rect class="p" x="285" y="2212.5" width="16" height="16" rx="4"/><text class="q" x="305" y="2220">”</text>
<use href="#nt" class="C" x="101" y="2607"/>
<path class="C b" d="M87,2234H168V2272H136V2477H168V2517H136V2594H168V2607H87Z"/>
<use href="#gr" x="97" y="2240"/><text x="123" y="2253">if</text>
<text x="98" y="2289">then</text>
<text x="98" y="2499">else if</text>
<text x="98" y="2535">then</text>
<use href="#tb" class="M" x="168" y="2235"/><rect class="M b" x="168" y="2235" width="284" height="36"/>
<use href="#tb" class="V" x="182" y="2241"/><rect class="V b" x="182" y="2241" width="162" height="25"/>
<text x="193" y="2259">get</text>
<rect class="p" x="219" y="2245.5" width="118" height="16" rx="4"/><text class="k" x="223" y="2259">responseCode</text><use href="#ar" class="V" x="326" y="2251"/>
<rect class="p" x="349" y="2245.5" width="35" height="16" rx="4"/><text class="k" x="354" y="2259">=</text><use href="#ar" class="M" x="370" y="2251"/>
<use href="#tb" class="M" x="397" y="2241"/><rect class="M b" x="397" y="2241" width="46" height="25"/>
<rect class="p" x="403" y="2245.5" width="33" height="16" rx="4"/><text class="k" x="407" y="2259">200</text>
<rect class="P b" x="136" y="2272" width="284" height="205"/>
<text x="147" y="2290">call</text>
<rect class="p" x="179" y="2276.5" width="77" height="16" rx="4"/><text class="k" x="183" y="2290">Notifier1</text><use href="#ar" class="P" x="245" y="2282"/>
<text x="262" y="2290">.ShowMessageDialog</text>
<text class="r" x="403" y="2315">message</text>
<use href="#tb" class="T" x="420" y="2297"/><rect class="T b" x="420" y="2297" width="78" height="128"/>
<use href="#gr" x="428" y="2302"/><text x="456" y="2315">join</text>
<use href="#tb" class="T" x="498" y="2297"/><rect class="T b" x="498" y="2297" width="367" height="25"/>
<text class="q" x="507" y="2309">“</text><rect class="p" x="518" y="2301.5" width="327" height="16" rx="4"/><text class="k" x="522" y="2315">Se ha enviado un correo electrónico de verificac..</text><text class="q" x="849" y="2309">”</text>
<use href="#tb" class="D" x="498" y="2323"/><rect class="D b" x="498" y="2323" width="132" height="102"/>
<text x="507" y="2341">get value for key</text>
<use href="#tb" class="T" x="630" y="2323"/><rect class="T b" x="630" y="2323" width="84" height="25"/>
<text class="q" x="639" y="2335">“</text><rect class="p" x="650" y="2327.5" width="44" height="16" rx="4"/><text class="k" x="654" y="2341">email</text><text class="q" x="698" y="2335">”</text>
<text class="r" x="611" y="2366">in dictionary</text>
<use href="#tb" class="P" x="630" y="2349"/><rect class="P b" x="630" y="2349" width="345" height="51"/>
<text x="640" y="2367">call</text>
<rect class="p" x="671" y="2353.5" width="65" height="16" rx="4"/><text class="k" x="675" y="2367">Web1</text><use href="#ar" class="P" x="725" y="2359"/>
<text x="742" y="2367">.JsonTextDecodeWithDictionaries</text>
<text class="r" x="957" y="2392">jsonText</text>
<use href="#tb" class="V" x="975" y="2375"/><rect class="V b" x="975" y="2375" width="180" height="25"/>
<text x="985" y="2393">get</text>
<rect class="p" x="1010" y="2379.5" width="133" height="16" rx="4"/><text class="k" x="1014" y="2393">responseContent</text><use href="#ar" class="V" x="1130" y="2385"/>
<text class="r" x="614" y="2417">or if not found</text>
<use href="#tb" class="T" x="630" y="2400"/><rect class="T b" x="630" y="2400" width="108" height="25"/>
<text class="q" x="639" y="2412">“</text><rect class="p" x="650" y="2404.5" width="68" height="16" rx="4"/><text class="k" x="654" y="2418">not found</text><text class="q" x="722" y="2412">”</text>
<text class="r" x="399" y="2443">title</text>
<use href="#tb" class="T" x="420" y="2426"/><rect class="T b" x="420" y="2426" width="102" height="25"/>
<text class="q" x="429" y="2438">“</text><rect class="p" x="439" y="2430.5" width="63" height="16" rx="4"/><text class="k" x="443" y="2444">Registro</text><text class="q" x="506" y="2438">”</text>
<text class="r" x="400" y="2469">buttonText</text>
<use href="#tb" class="T" x="420" y="2452"/><rect class="T b" x="420" y="2452" width="69" height="25"/>
<text class="q" x="429" y="2464">“</text><rect class="p" x="439" y="2456.5" width="31" height="16" rx="4"/><text class="k" x="443" y="2470">OK</text><text class="q" x="474" y="2464">”</text>
<use href="#tb" class="M" x="168" y="2481"/><rect class="M b" x="168" y="2481" width="282" height="36"/>
<use href="#tb" class="V" x="182" y="2487"/><rect class="V b" x="182" y="2487" width="162" height="25"/>
<text x="193" y="2505">get</text>
<rect class="p" x="219" y="2491.5" width="118" height="16" rx="4"/><text class="k" x="223" y="2505">responseCode</text><use href="#ar" class="V" x="326" y="2497"/>
<rect class="p" x="347" y="2491.5" width="37" height="16" rx="4"/><text class="k" x="352" y="2505">=</text><use href="#ar" class="M" x="370" y="2497"/>
<use href="#tb" class="M" x="397" y="2487"/><rect class="M b" x="397" y="2487" width="44" height="25"/>
<rect class="p" x="402" y="2491.5" width="34" height="16" rx="4"/><text class="k" x="406" y="2505">400</text>
<use href="#nt" class="P" x="150" y="2594"/>
<rect class="P b" x="136" y="2517" width="211" height="77"/>
<text x="147" y="2535">call</text>
<rect class="p" x="179" y="2521.5" width="154" height="16" rx="4"/><text class="k" x="183" y="2535">showErrorResponse</text><use href="#ar" class="P" x="322" y="2527"/>
<text class="r" x="327" y="2560">title</text>
<use href="#tb" class="T" x="347" y="2543"/><rect class="T b" x="347" y="2543" width="103" height="25"/>
<text class="q" x="356" y="2555">“</text><rect class="p" x="366" y="2547.5" width="62" height="16" rx="4"/><text class="k" x="370" y="2561">Registro</text><text class="q" x="432" y="2555">”</text>
<text class="r" x="327" y="2586">body</text>
<use href="#tb" class="V" x="347" y="2568"/><rect class="V b" x="347" y="2568" width="176" height="26"/>
<text x="357" y="2586">get</text>
<rect class="p" x="382" y="2572.5" width="136" height="16" rx="4"/><text class="k" x="386" y="2586">responseContent</text><use href="#ar" class="V" x="507" y="2578"/>
<use href="#nt" class="C" x="101" y="1744"/><use href="#nt" class="V" x="101" y="1769"/>
<use href="#nt" class="C" x="150" y="1807"/><use href="#nt" class="P" x="150" y="1934"/><use href="#nt" class="S" x="150" y="1960"/><use href="#nt" class="S" x="150" y="1986"/><use href="#nt" class="P" x="150" y="2012"/><use href="#nt" class="C" x="150" y="2079"/>
<use href="#nt" class="C" x="101" y="2208"/><use href="#nt" class="V" x="101" y="2234"/>
<use href="#nt" class="C" x="150" y="2272"/><use href="#nt" class="P" x="150" y="2477"/><use href="#nt" class="C" x="150" y="2517"/>
</g>
</svg>
